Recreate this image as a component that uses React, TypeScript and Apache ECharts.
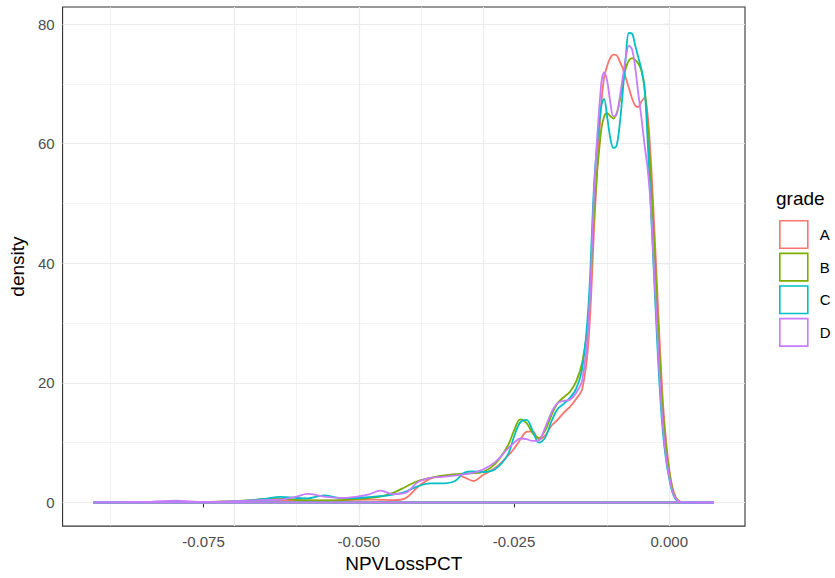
import React, { useEffect, useRef } from "react";
import * as echarts from "echarts";

const xs = [
  -0.0927, -0.088, -0.0835, -0.0795, -0.075, -0.071, -0.068, -0.0655, -0.0626, -0.06,
  -0.0583, -0.0556, -0.053, -0.0505, -0.0485, -0.0465, -0.0445, -0.0425, -0.0405, -0.0385,
  -0.0365, -0.0345, -0.033, -0.0315, -0.03, -0.028, -0.026, -0.025, -0.024, -0.023,
  -0.022, -0.021, -0.02, -0.019, -0.018, -0.017, -0.016, -0.015, -0.014, -0.013,
  -0.012, -0.011, -0.0105, -0.01, -0.0095, -0.009, -0.0085, -0.008, -0.0075, -0.007,
  -0.0065, -0.006, -0.0055, -0.005, -0.0045, -0.004, -0.0035, -0.003, -0.0025, -0.002,
  -0.0015, -0.001, -0.0005, 0.0, 0.0005, 0.001, 0.0015, 0.002, 0.003, 0.0045, 0.0072,
];

const gradeA = [
  0, 0.05, 0.08, 0.15, 0.08, 0.12, 0.2, 0.3, 0.35, 0.4,
  0.35, 0.3, 0.35, 0.45, 0.5, 0.45, 0.4, 0.7, 2.6, 4.0,
  4.4, 4.7, 4.2, 3.6, 4.6, 5.8, 7.8, 9.0, 10.5, 11.8,
  11.9, 10.6, 11.2, 12.8, 13.8, 15.0, 16.0, 17.3, 19.0, 27,
  48, 66, 71, 73, 74.3, 74.9, 74.8, 73.8, 72.6, 71.0,
  69.3, 67.6, 66.4, 66.1, 67.0, 67.6, 65, 58, 48, 37,
  26, 16.5, 10.2, 5.5, 2.6, 1.0, 0.3, 0.08, 0.01, 0, 0,
];

const gradeB = [
  0, 0.05, 0.08, 0.12, 0.08, 0.2, 0.35, 0.55, 0.65, 0.45,
  0.35, 0.35, 0.4, 0.55, 0.75, 1.0, 1.6, 2.6, 3.6, 4.1,
  4.5, 4.7, 4.8, 4.9, 5.1, 6.5, 9.5, 12.0, 13.9, 13.3,
  11.6, 10.8, 12.0, 14.5, 16.6, 17.6, 18.5, 20.2, 23.5, 31,
  50, 62, 64.5, 65.1, 64.6, 64.2, 65, 67, 70, 72.6,
  73.9, 74.3, 74.0, 73.4, 72.3, 69.5, 63.5, 55, 45, 34,
  23.5, 15, 9.2, 5.2, 2.3, 0.85, 0.25, 0.06, 0.01, 0, 0,
];

const gradeC = [
  0, 0.05, 0.06, 0.1, 0.06, 0.15, 0.3, 0.55, 0.95, 0.75,
  0.7, 1.2, 0.75, 0.75, 0.9, 1.05, 1.3, 1.8, 2.7, 3.2,
  3.2, 3.6, 5.0, 5.2, 5.1, 5.6, 8.0, 11.0, 13.4, 13.8,
  12.0, 10.0, 10.8, 13.5, 15.6, 16.5, 17.5, 19.0, 22.5, 33,
  55, 66, 67.5, 64.5, 61, 59.3, 59.6, 63, 68.5, 74.5,
  78.5, 78.4, 76.5, 74.5, 72.5, 69.5, 61, 50, 39, 28,
  18.5, 11.5, 7, 4.0, 1.7, 0.6, 0.17, 0.04, 0, 0, 0,
];

const gradeD = [
  0, 0.08, 0.12, 0.3, 0.1, 0.2, 0.3, 0.4, 0.5, 1.0,
  1.45, 1.0, 0.75, 0.95, 1.3, 2.0, 1.4, 1.6, 3.4, 4.1,
  4.3, 4.5, 4.7, 5.0, 5.5, 6.8, 9.0, 10.0, 10.7, 10.6,
  10.3, 10.4, 12.5, 15.0, 16.6, 17.0, 17.2, 18.3, 20.5, 30,
  54, 69.5, 71.9, 70.5, 67, 64.6, 64.8, 67.5, 71, 74.3,
  76.4, 75.8, 72.9, 68.5, 64.5, 60, 56, 50, 40, 30,
  20, 12.5, 7.5, 4.3, 1.9, 0.7, 0.2, 0.05, 0.01, 0, 0,
];

const categories = ["A", "B", "C", "D"];
const xTicks = [-0.075, -0.05, -0.025, 0];
const xMinorTicks = [-0.0875, -0.0625, -0.0375, -0.0125];
const yTicks = [0, 20, 40, 60, 80];
const yMinorTicks = [10, 30, 50, 70];

const COLORS = ["#F8766D", "#7CAE00", "#00BFC4", "#C77CFF"];
const FONT = "'Liberation Sans', Arial, Helvetica, sans-serif";

export default function App() {
  const ref = useRef<HTMLDivElement>(null);

  useEffect(() => {
    if (!ref.current) return;
    const chart = echarts.init(ref.current, undefined, { renderer: "svg" });
    const values = [gradeA, gradeB, gradeC, gradeD];

    const series: any[] = [
      {
        type: "line",
        name: "minorGrid",
        data: [],
        z: 1,
        silent: true,
        markLine: {
          z: 1,
          silent: true,
          symbol: ["none", "none"],
          label: { show: false },
          emphasis: { disabled: true },
          lineStyle: { color: "#EBEBEB", width: 0.6, type: "solid" },
          data: [
            ...xMinorTicks.map((v) => ({ xAxis: v })),
            ...yMinorTicks.map((v) => ({ yAxis: v })),
          ],
        },
      },
      {
        type: "line",
        name: "majorGrid",
        data: [],
        z: 1,
        silent: true,
        markLine: {
          z: 1,
          silent: true,
          symbol: ["none", "none"],
          label: { show: false },
          emphasis: { disabled: true },
          lineStyle: { color: "#EBEBEB", width: 1.2, type: "solid" },
          data: [
            ...xTicks.map((v) => ({ xAxis: v })),
            ...yTicks.map((v) => ({ yAxis: v })),
          ],
        },
      },
    ];

    categories.forEach((c, i) => {
      series.push({
        type: "line",
        name: c,
        data: xs.map((x, j) => [x, values[i][j]]),
        smooth: 0.35,
        symbol: "none",
        showSymbol: false,
        silent: true,
        z: 10,
        itemStyle: { color: COLORS[i] },
        lineStyle: { color: COLORS[i], width: 1.8 },
      });
      series.push({
        type: "line",
        name: c + "_base",
        data: [
          [xs[0], 0],
          [xs[xs.length - 1], 0],
        ],
        symbol: "none",
        showSymbol: false,
        silent: true,
        z: 10,
        itemStyle: { color: COLORS[i] },
        lineStyle: { color: COLORS[i], width: 1.8 },
      });
    });

    chart.setOption({
      animation: false,
      backgroundColor: "#ffffff",
      textStyle: { fontFamily: FONT },
      title: {
        text: "grade",
        left: 776,
        top: 189,
        padding: 0,
        textStyle: { fontSize: 19, fontWeight: "normal", color: "#000", fontFamily: FONT },
      },
      legend: {
        orient: "vertical",
        left: 779,
        top: 220,
        padding: 0,
        itemWidth: 28,
        itemHeight: 27.5,
        itemGap: 3.5,
        icon: "rect",
        selectedMode: false,
        textStyle: { fontSize: 15, color: "#000", fontFamily: FONT, padding: [0, 0, 0, 7] },
        data: categories.map((c, i) => ({
          name: c,
          icon: "rect",
          itemStyle: { color: "#ffffff", borderColor: COLORS[i], borderWidth: 1.6 },
          lineStyle: { width: 0, opacity: 0 },
        })),
      },
      grid: {
        left: 62,
        top: 7,
        width: 683,
        height: 520,
        show: true,
        borderColor: "#333333",
        borderWidth: 1.1,
        backgroundColor: "#ffffff",
        containLabel: false,
      },
      xAxis: {
        type: "value",
        min: -0.0977,
        max: 0.0122,
        axisLine: { show: false },
        splitLine: { show: false },
        axisTick: {
          show: true,
          customValues: xTicks,
          length: 5,
          lineStyle: { color: "#333333", width: 1.1 },
        },
        axisLabel: {
          customValues: xTicks,
          formatter: (v: number) => v.toFixed(3),
          color: "#4D4D4D",
          fontSize: 15,
          margin: 8,
          fontFamily: FONT,
        },
        name: "NPVLossPCT",
        nameLocation: "middle",
        nameGap: 27,
        nameTextStyle: { color: "#000", fontSize: 19, fontFamily: FONT },
      },
      yAxis: {
        type: "value",
        min: -3.945,
        max: 82.85,
        axisLine: { show: false },
        splitLine: { show: false },
        axisTick: {
          show: true,
          customValues: yTicks,
          length: 5,
          lineStyle: { color: "#333333", width: 1.1 },
        },
        axisLabel: {
          customValues: yTicks,
          color: "#4D4D4D",
          fontSize: 15,
          margin: 8,
          fontFamily: FONT,
        },
        name: "density",
        nameLocation: "middle",
        nameGap: 33,
        nameTextStyle: { color: "#000", fontSize: 19, fontFamily: FONT },
      },
      series,
    });

    return () => chart.dispose();
  }, []);

  return (
    <div
      ref={ref}
      style={{ position: "absolute", left: 0, top: 0, width: 835, height: 578 }}
    />
  );
}
